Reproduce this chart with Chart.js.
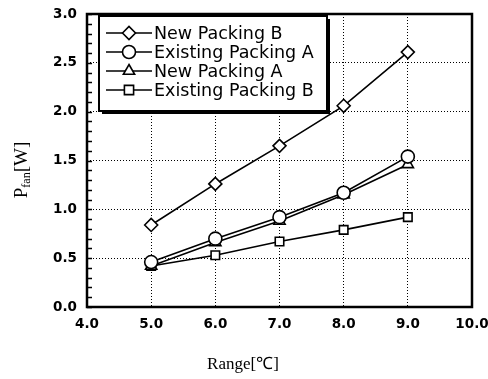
<!DOCTYPE html>
<html>
<head>
<meta charset="utf-8">
<script src="https://cdn.jsdelivr.net/npm/chart.js@4"></script>
<style>
  html, body { margin: 0; padding: 0; background: #fff; }
  #wrap { width: 488px; height: 379px; }
</style>
</head>
<body>
<div id="wrap"><canvas id="chart"></canvas></div>
<script>
// Fan power vs. range
const ranges = [5.0, 6.0, 7.0, 8.0, 9.0];
const newPackingB = [0.84, 1.26, 1.65, 2.06, 2.61];
const existingPackingA = [0.46, 0.70, 0.92, 1.17, 1.54];
const newPackingA = [0.42, 0.66, 0.88, 1.15, 1.46];
const existingPackingB = [0.42, 0.53, 0.67, 0.79, 0.92];

const seriesNames = ['New Packing B', 'Existing Packing A', 'New Packing A', 'Existing Packing B'];
const seriesStyles = ['rectRot', 'circle', 'triangle', 'rect'];

function toPoints(values) {
  return ranges.map((x, i) => ({ x, y: values[i] }));
}

const allSeries = [newPackingB, existingPackingA, newPackingA, existingPackingB];

const datasets = allSeries.map((values, i) => ({
  label: seriesNames[i],
  data: toPoints(values),
  borderColor: '#000',
  borderWidth: 1.6,
  pointStyle: seriesStyles[i],
  pointRadius: i === 3 ? 6 : 6.5,
  pointBackgroundColor: '#fff',
  pointBorderColor: '#000',
  pointBorderWidth: 1.6,
  tension: 0
}));

// Frame, minor ticks, boxed legend and axis titles
const decorations = {
  id: 'decorations',
  afterDraw(chart) {
    const { ctx, chartArea: a, scales } = chart;
    ctx.save();

    // minor ticks on y axis
    ctx.strokeStyle = '#000';
    ctx.lineWidth = 1.5;
    for (let v = 0; v <= 30; v++) {
      const y = Math.round(scales.y.getPixelForValue(v / 10)) + 0.5;
      ctx.beginPath();
      ctx.moveTo(a.left, y);
      ctx.lineTo(a.left + 5, y);
      ctx.stroke();
    }

    // plot frame
    ctx.lineWidth = 2.5;
    ctx.strokeRect(a.left, a.top, a.right - a.left, a.bottom - a.top);

    // legend box with shadow
    const bx = 99, by = 16, bw = 228, bh = 95;
    ctx.fillStyle = '#000';
    ctx.fillRect(bx + 3, by + 3, bw, bh);
    ctx.fillStyle = '#fff';
    ctx.fillRect(bx, by, bw, bh);
    ctx.lineWidth = 2;
    ctx.strokeRect(bx, by, bw, bh);

    const rows = [33, 52, 71, 90];
    ctx.font = '17.5px "DejaVu Sans"';
    ctx.textBaseline = 'middle';
    rows.forEach((y, i) => {
      ctx.strokeStyle = '#000';
      ctx.lineWidth = 1.6;
      ctx.beginPath();
      ctx.moveTo(106, y);
      ctx.lineTo(152, y);
      ctx.stroke();
      ctx.fillStyle = '#fff';
      Chart.helpers.drawPoint(ctx, {
        pointStyle: seriesStyles[i],
        radius: 6.5,
        rotation: 0,
        borderWidth: 1.6
      }, 129, y);
      ctx.fillStyle = '#000';
      ctx.fillText(seriesNames[i], 154, y + 1);
    });

    // x title
    ctx.fillStyle = '#000';
    ctx.font = '17px "Liberation Serif"';
    ctx.textAlign = 'center';
    ctx.textBaseline = 'middle';
    ctx.fillText('Range[℃]', 243, 365);

    // y title with subscript
    ctx.translate(21, 170);
    ctx.rotate(-Math.PI / 2);
    ctx.textAlign = 'left';
    ctx.textBaseline = 'alphabetic';
    const big = '19px "Liberation Serif"';
    const small = '12px "Liberation Serif"';
    ctx.font = big;
    const wP = ctx.measureText('P').width;
    const wW = ctx.measureText('[W]').width;
    ctx.font = small;
    const wSub = ctx.measureText('fan').width;
    let x0 = -(wP + wSub + wW) / 2;
    ctx.font = big;
    ctx.fillText('P', x0, 6);
    x0 += wP;
    ctx.font = small;
    ctx.fillText('fan', x0, 9);
    x0 += wSub;
    ctx.font = big;
    ctx.fillText('[W]', x0, 6);

    ctx.restore();
  }
};

new Chart(document.getElementById('chart'), {
  type: 'line',
  data: { datasets },
  options: {
    responsive: true,
    maintainAspectRatio: false,
    animation: false,
    layout: { padding: { top: 14, right: 16, left: 0, bottom: 0 } },
    plugins: {
      legend: { display: false },
      tooltip: { enabled: false }
    },
    scales: {
      x: {
        type: 'linear',
        min: 4,
        max: 10,
        ticks: {
          stepSize: 1,
          color: '#000',
          padding: 9,
          font: { family: 'DejaVu Sans', size: 13.5, weight: 'bold' },
          callback: v => v.toFixed(1)
        },
        grid: { color: '#000', lineWidth: 1, drawTicks: false },
        border: { display: false, dash: [1, 2] },
        afterFit(scale) {
          scale.height = 72;
          scale.paddingLeft = 0;
          scale.paddingRight = 0;
        }
      },
      y: {
        min: 0,
        max: 3,
        ticks: {
          stepSize: 0.5,
          color: '#000',
          padding: 10,
          font: { family: 'DejaVu Sans', size: 13.5, weight: 'bold' },
          callback: v => v.toFixed(1)
        },
        grid: { color: '#000', lineWidth: 1, drawTicks: false },
        border: { display: false, dash: [1, 2] },
        afterFit(scale) {
          scale.width = 87;
          scale.paddingTop = 0;
          scale.paddingBottom = 0;
        }
      }
    }
  },
  plugins: [decorations]
});
</script>
</body>
</html>
